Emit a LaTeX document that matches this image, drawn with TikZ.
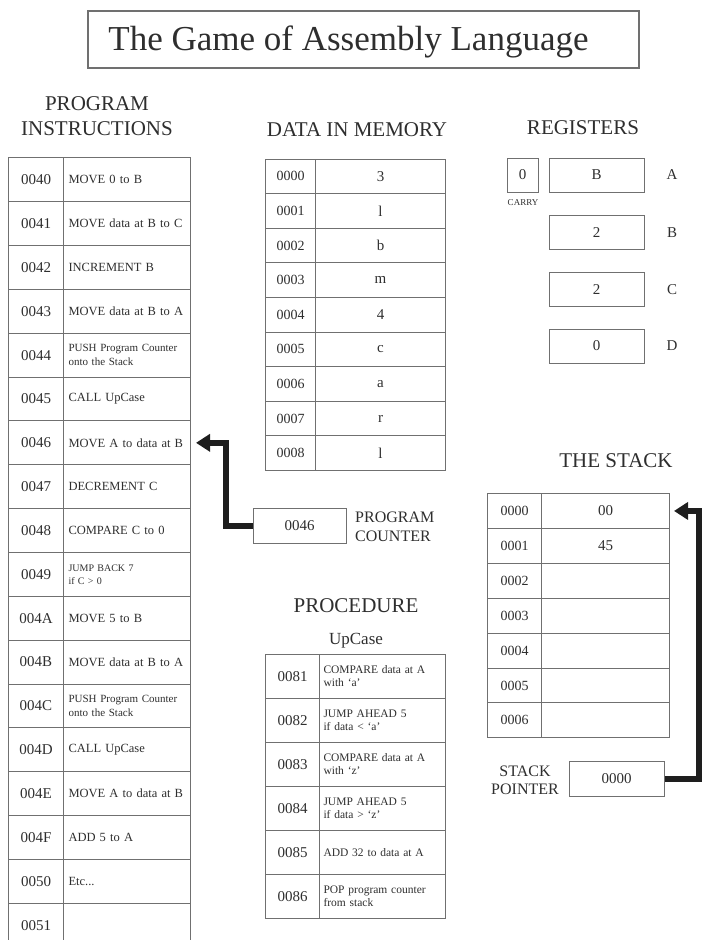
\documentclass[tikz,border=0pt]{standalone}
\usepackage{fontspec}
\setmainfont{Liberation Serif}
\usetikzlibrary{arrows.meta}
\definecolor{ink}{HTML}{2E2E2E}
\definecolor{rule}{HTML}{707070}
\definecolor{pointer}{HTML}{1E1E1E}

\begin{document}
\begin{tikzpicture}[x=1pt,y=-1pt]
\tikzstyle{every node}=[text=ink,inner sep=0pt]
\tikzstyle{cell}=[draw=rule,line width=1pt,rectangle,anchor=north west]
\tikzstyle{regbox}=[draw=rule,line width=1pt,rectangle,minimum height=34pt,font=\fontsize{15}{18}\selectfont]
\tikzstyle{head}=[font=\fontsize{21}{25}\selectfont,align=center]
\tikzstyle{lineone}=[font=\fontsize{12.5}{15}\selectfont]
\tikzstyle{linetwo}=[font=\fontsize{11}{14}\selectfont]
\tikzstyle{linesmall}=[font=\fontsize{10}{13}\selectfont]
\tikzstyle{bigarrow}=[draw=pointer,line width=6pt,line join=miter,-{Triangle[length=14pt,width=17pt]}]
\useasboundingbox (0,0) rectangle (704,940);
\clip (0,0) rectangle (704,940);

\node[draw=rule,line width=1.6pt,minimum width=551pt,minimum height=57pt] (titlebox) at (363.5,39.5) {};
\node[font=\fontsize{35}{40}\selectfont,anchor=base] (title) at (348.5,50) {The Game of Assembly Language};

\node[head] (proghead) at (97,116) {PROGRAM\\INSTRUCTIONS};
\node[head,anchor=base] (datahead) at (357,136) {DATA IN MEMORY};
\node[head,anchor=base] (reghead) at (583,134) {REGISTERS};
\node[head,anchor=base] (stackhead) at (616,467) {THE STACK};
\node[head,anchor=base] (prochead) at (356,612) {PROCEDURE};
\node[font=\fontsize{17}{20}\selectfont,anchor=base] (procname) at (356,644) {UpCase};

\foreach \a/\t/\f [count=\i from 0] in {0040/{MOVE 0 to B}/lineone, 0041/{MOVE data at B to C}/lineone,
  0042/{INCREMENT B}/lineone, 0043/{MOVE data at B to A}/lineone,
  0044/{PUSH Program Counter\\onto the Stack}/linetwo, 0045/{CALL UpCase}/lineone,
  0046/{MOVE A to data at B}/lineone, 0047/{DECREMENT C}/lineone, 0048/{COMPARE C to 0}/lineone,
  0049/{JUMP BACK 7\\if C > 0}/linesmall, 004A/{MOVE 5 to B}/lineone, 004B/{MOVE data at B to A}/lineone,
  004C/{PUSH Program Counter\\onto the Stack}/linetwo, 004D/{CALL UpCase}/lineone,
  004E/{MOVE A to data at B}/lineone, 004F/{ADD 5 to A}/lineone, 0050/{Etc...}/lineone, 0051/{}/lineone}{
  \node[cell,minimum width=55pt,minimum height=43.85pt,font=\fontsize{15}{18}\selectfont] (pa\i) at (8,{157.3+43.85*\i}) {\a};
  \node[cell,\f,minimum width=127pt,minimum height=43.85pt,text width=117pt,align=left] (pi\i) at (63,{157.3+43.85*\i}) {\t};
}

\foreach \a/\v [count=\i from 0] in {0000/3,0001/l,0002/b,0003/m,0004/4,0005/c,0006/a,0007/r,0008/l}{
  \node[cell,minimum width=50pt,minimum height=34.6pt,font=\fontsize{14}{18}\selectfont] (da\i) at (265,{158.5+34.6*\i}) {\a};
  \node[cell,minimum width=130pt,minimum height=34.6pt,font=\fontsize{15}{18}\selectfont] (dv\i) at (315,{158.5+34.6*\i}) {\v};
}

\node[regbox,minimum width=31pt] (carry) at (522.5,175) {0};
\node[font=\fontsize{9}{10}\selectfont] (carrylab) at (523,203) {CARRY};
\foreach \r/\v/\y in {a/B/175,b/2/232.5,c/2/289.5,d/0/346}{
  \node[regbox,minimum width=95pt] (r\r) at (596.5,\y) {\v};
}
\node[font=\fontsize{15}{18}\selectfont] (la) at (672,175) {A};
\node[font=\fontsize{15}{18}\selectfont] (lb) at (672,232.5) {B};
\node[font=\fontsize{15}{18}\selectfont] (lc) at (672,289.5) {C};
\node[font=\fontsize{15}{18}\selectfont] (ld) at (672,346) {D};

\foreach \a/\v [count=\i from 0] in {0000/00,0001/45,0002/{},0003/{},0004/{},0005/{},0006/{}}{
  \node[cell,minimum width=54pt,minimum height=34.9pt,font=\fontsize{14}{18}\selectfont] (sa\i) at (487,{493+34.9*\i}) {\a};
  \node[cell,minimum width=128pt,minimum height=34.9pt,font=\fontsize{15}{18}\selectfont] (sv\i) at (541,{493+34.9*\i}) {\v};
}

\foreach \a/\t [count=\i from 0] in {0081/{COMPARE data at A\\with `a'}, 0082/{JUMP AHEAD 5\\if data < `a'},
  0083/{COMPARE data at A\\with `z'}, 0084/{JUMP AHEAD 5\\if data > `z'}, 0085/{ADD 32 to data at A},
  0086/{POP program counter\\from stack}}{
  \node[cell,minimum width=54pt,minimum height=44pt,font=\fontsize{15}{18}\selectfont] (ra\i) at (265,{654+44*\i}) {\a};
  \node[cell,minimum width=126pt,minimum height=44pt,text width=118pt,align=left,font=\fontsize{11.5}{13}\selectfont] (ri\i) at (319,{654+44*\i}) {\t};
}

\node[regbox,minimum width=93pt,minimum height=35pt] (pc) at (299.5,525.5) {0046};
\node[font=\fontsize{16}{19}\selectfont,align=left,anchor=west] (pclab) at (355,526.5) {PROGRAM\\COUNTER};
\node[regbox,minimum width=95pt,minimum height=35pt] (sp) at (616.5,778.5) {0000};
\node[font=\fontsize{16}{18}\selectfont,align=center] (splab) at (525,780) {STACK\\POINTER};

\coordinate (pcbend) at (226,0);
\coordinate (spbend) at (699,0);
\draw[bigarrow] (pc.west) -| (pcbend |- pi6.east) -- ([xshift=5pt]pi6.east);
\draw[bigarrow] (sp.east) -| (spbend |- sv0.east) -- ([xshift=4pt]sv0.east);
\end{tikzpicture}
\end{document}
